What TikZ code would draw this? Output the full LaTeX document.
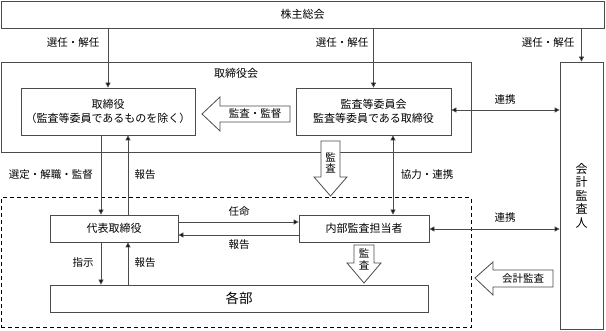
\documentclass[tikz,border=0pt]{standalone}
\usepackage{fontspec}
\setmainfont{Noto Sans CJK JP}
\usetikzlibrary{arrows.meta}
\definecolor{lc}{RGB}{75,75,75}
\begin{document}
\begin{tikzpicture}[x=1pt,y=-1pt,
  box/.style={draw=lc, line width=0.8pt, inner sep=0pt, font=\fontsize{11}{14}\selectfont, align=center},
  lbl/.style={inner sep=0pt, font=\fontsize{10.5}{12}\selectfont},
  con/.style={draw=lc, line width=0.8pt, -{Triangle[length=5pt,width=5pt,fill=black]}},
  bicon/.style={draw=lc, line width=0.8pt, {Triangle[length=5pt,width=5pt,fill=black]}-{Triangle[length=5pt,width=5pt,fill=black]}},
  blk/.style={draw=lc, line width=0.8pt, fill=white, line join=miter},
  grp/.style={draw=black, line width=1pt, dash pattern=on 4pt off 3pt, inner sep=0pt}]
\useasboundingbox (0,0) rectangle (606,331);

% outer boxes
\node[box, minimum width=603pt, minimum height=27pt] (sh) at (302.5,14.5) {株主総会};
\node[box, minimum width=470pt, minimum height=90pt] (board) at (236,107) {};
\node[lbl, font=\fontsize{11}{12}\selectfont] (boardlbl) at (236,73) {取締役会};
\node[grp, minimum width=470pt, minimum height=130pt] (grpbox) at (236,263) {};
\node[box, minimum width=43pt, minimum height=267pt, font=\fontsize{12}{13.5}\selectfont] (ca) at (581.5,195.5) {会\\計\\監\\査\\人};

% inner boxes
\node[box, minimum width=174pt, minimum height=47pt] (dir) at (108,111.5) {取締役\\（監査等委員であるものを除く）};
\node[box, minimum width=155pt, minimum height=47pt] (aud) at (373.5,111.5) {監査等委員会\\監査等委員である取締役};
\node[box, minimum width=128pt, minimum height=27pt] (rep) at (114,228.5) {代表取締役};
\node[box, minimum width=130pt, minimum height=27pt] (ia) at (364,228.5) {内部監査担当者};
\node[box, minimum width=378pt, minimum height=27pt, font=\fontsize{13.5}{15}\selectfont] (dept) at (239,298.5) {各部};

% helper coordinates
\coordinate (xd) at (101,0);
\coordinate (xu) at (128,0);
\coordinate (xc) at (393,0);
\coordinate (yn) at (0,222);
\coordinate (yr) at (0,235);
\coordinate (yl) at (0,110);
\coordinate (yi) at (0,229);

% connectors
\draw[con] (sh.south -| dir.north) -- (dir.north);
\draw[con] (sh.south -| aud.north) -- (aud.north);
\draw[con] (sh.south -| ca.north) -- (ca.north);
\draw[bicon] (aud.east |- yl) -- (ca.west |- yl);
\draw[con] (dir.south -| xd) -- (rep.north -| xd);
\draw[con] (rep.north -| xu) -- (dir.south -| xu);
\draw[bicon] (aud.south -| xc) -- (ia.north -| xc);
\draw[con] (rep.east |- yn) -- (ia.west |- yn);
\draw[con] (ia.west |- yr) -- (rep.east |- yr);
\draw[bicon] (ia.east |- yi) -- (ca.west |- yi);
\draw[con] (rep.south -| xd) -- (dept.north -| xd);
\draw[con] (dept.north -| xu) -- (rep.south -| xu);

% labels
\node[lbl] (l1) at (73,43) {選任・解任};
\node[lbl] (l2) at (342,43) {選任・解任};
\node[lbl] (l3) at (548,43) {選任・解任};
\node[lbl] (l4) at (505,100) {連携};
\node[lbl] (l5) at (51,175) {選定・解職・監督};
\node[lbl] (l6) at (145,175) {報告};
\node[lbl] (l7) at (427,175) {協力・連携};
\node[lbl] (l8) at (239,212) {任命};
\node[lbl] (l9) at (239,245) {報告};
\node[lbl] (l10) at (505,218) {連携};
\node[lbl] (l11) at (83,263) {指示};
\node[lbl] (l12) at (145,263) {報告};

% block arrows
\draw[blk] (202,114) -- (220,97) -- (220,106) -- (290,106) -- (290,122) -- (220,122) -- (220,131) -- cycle;
\node[lbl] (b1) at (255,114) {監査・監督};
\draw[blk] (330.5,196) -- (314,177) -- (321,177) -- (321,141) -- (340,141) -- (340,177) -- (347,177) -- cycle;
\node[lbl, align=center, font=\fontsize{10.5}{11.5}\selectfont] (b2) at (330.5,163) {監\\査};
\draw[blk] (364,283) -- (347,263) -- (354,263) -- (354,245) -- (374,245) -- (374,263) -- (381,263) -- cycle;
\node[lbl, align=center, font=\fontsize{10.5}{11.5}\selectfont] (b3) at (364,259.5) {監\\査};
\draw[blk] (475,278) -- (493,262) -- (493,270) -- (553,270) -- (553,287) -- (493,287) -- (493,295) -- cycle;
\node[lbl] (b4) at (523,278.5) {会計監査};
\end{tikzpicture}
\end{document}
